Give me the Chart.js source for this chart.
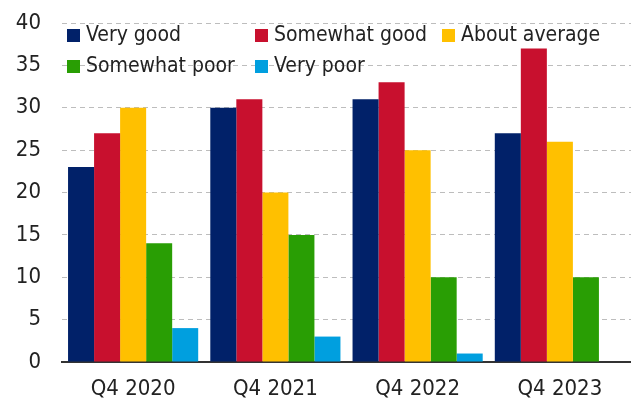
<!DOCTYPE html>
<html>
<head>
<meta charset="utf-8">
<script src="https://cdn.jsdelivr.net/npm/chart.js@4"></script>
<style>
    html, body { margin: 0; padding: 0; background: #fff; }
    #wrap { width: 631px; height: 402px; }
</style>
</head>
<body>
<div id="wrap"><canvas id="chart"></canvas></div>
<script>
const categories = ['Q4 2020', 'Q4 2021', 'Q4 2022', 'Q4 2023'];
const seriesNames = ['Very good', 'Somewhat good', 'About average', 'Somewhat poor', 'Very poor'];
const veryGood = [23, 30, 31, 27];
const somewhatGood = [27, 31, 33, 37];
const aboutAverage = [30, 20, 25, 26];
const somewhatPoor = [14, 15, 10, 10];
const veryPoor = [4, 3, 1, 0];
const yTicks = [0, 5, 10, 15, 20, 25, 30, 35, 40];

const colors = ['#012169', '#C8102E', '#FFC000', '#299E04', '#009FDF'];
const FONT = '"DejaVu Sans Condensed", "Open Sans", sans-serif';

const values = [veryGood, somewhatGood, aboutAverage, somewhatPoor, veryPoor];
const datasets = values.map((data, i) => ({
    label: seriesNames[i],
    data,
    backgroundColor: colors[i],
    borderWidth: 0,
}));

// legend laid out in fixed columns like the original
const gridLegend = {
    id: 'gridLegend',
    afterDatasetsDraw(chart) {
        const ctx = chart.ctx;
        const cols = [67, 255, 442];
        const rows = [35, 66];
        ctx.save();
        ctx.font = '21px ' + FONT;
        ctx.textBaseline = 'middle';
        chart.data.datasets.forEach((ds, i) => {
            const x = cols[i % 3];
            const y = rows[Math.floor(i / 3)];
            ctx.fillStyle = ds.backgroundColor;
            ctx.fillRect(x, y - 6, 13, 13);
            ctx.fillStyle = '#222';
            ctx.fillText(ds.label, x + 19, y + 1);
        });
        ctx.restore();
    },
};

new Chart(document.getElementById('chart'), {
    type: 'bar',
    data: { labels: categories, datasets },
    plugins: [gridLegend],
    options: {
        responsive: true,
        maintainAspectRatio: false,
        animation: false,
        layout: { padding: { top: 23, right: 0, left: 0, bottom: 0 } },
        plugins: {
            legend: { display: false },
            tooltip: { enabled: false },
        },
        datasets: {
            bar: { barPercentage: 1, categoryPercentage: 0.915 },
        },
        scales: {
            x: {
                grid: { display: false, drawTicks: false },
                border: { display: true, color: '#333', width: 2 },
                ticks: { color: '#222', font: { family: FONT, size: 22 }, padding: 14 },
                afterFit: (scale) => { scale.height = 40; },
            },
            y: {
                min: 0,
                max: 40,
                afterBuildTicks: (axis) => { axis.ticks = yTicks.map((v) => ({ value: v })); },
                grid: { color: '#bdbdbd', lineWidth: 1, drawTicks: false },
                border: { display: false, dash: [5, 4] },
                ticks: { color: '#222', font: { family: FONT, size: 22, lineHeight: 0.6 }, padding: 21 },
                afterFit: (scale) => {
                    scale.width = 62;
                    scale.paddingTop = 0;
                    scale.paddingBottom = 0;
                },
            },
        },
    },
});
</script>
</body>
</html>
